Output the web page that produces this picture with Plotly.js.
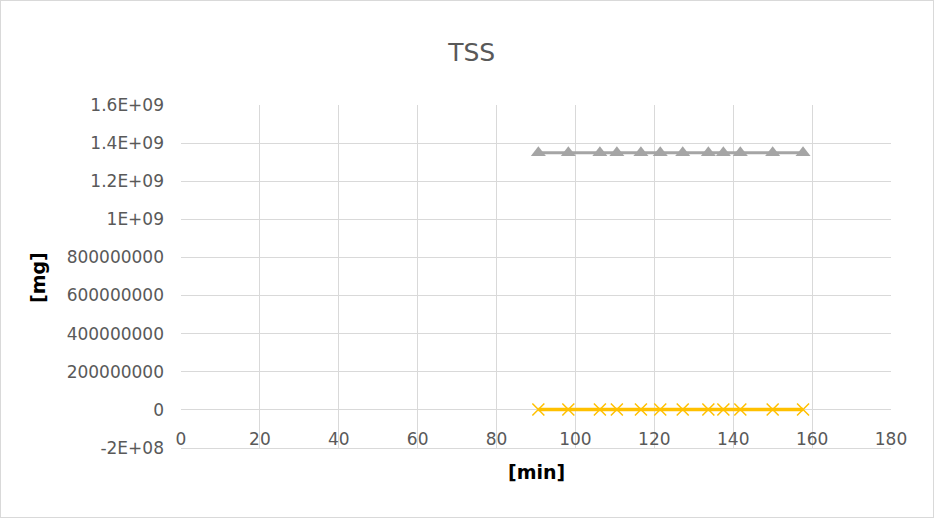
<!DOCTYPE html>
<html>
<head>
<meta charset="utf-8">
<script src="https://cdn.plot.ly/plotly-3.0.1.min.js"></script>
<style>
html,body{margin:0;padding:0;background:#fff;}
#chart{width:934px;height:518px;outline:1px solid #d9d9d9;outline-offset:-1px;}
</style>
</head>
<body>
<div id="chart"></div>
<script>
var timeMin = [90.6, 98.2, 106.2, 110.5, 116.6, 121.5, 127.2, 133.7, 137.5, 141.8, 150.0, 157.7];
var seriesGray = [1.35e9, 1.35e9, 1.35e9, 1.35e9, 1.35e9, 1.35e9, 1.35e9, 1.35e9, 1.35e9, 1.35e9, 1.35e9, 1.35e9];
var seriesYellow = [2e6, 2e6, 2e6, 2e6, 2e6, 2e6, 2e6, 2e6, 2e6, 2e6, 2e6, 2e6];
var yTickVals = [-2e8, 0, 2e8, 4e8, 6e8, 8e8, 1e9, 1.2e9, 1.4e9, 1.6e9];
var yTickText = ['-2E+08', '0', '200000000', '400000000', '600000000', '800000000', '1E+09', '1.2E+09', '1.4E+09', '1.6E+09'];
var xTickVals = [0, 20, 40, 60, 80, 100, 120, 140, 160, 180];

var traces = [
  {x: timeMin, y: seriesGray, mode: 'lines+markers', type: 'scatter',
   line: {color: '#a5a5a5', width: 3},
   marker: {symbol: 'triangle-up', size: 13, color: '#a5a5a5'}},
  {x: timeMin, y: seriesYellow, mode: 'lines+markers', type: 'scatter',
   line: {color: '#ffc000', width: 3.5},
   marker: {symbol: 'x-thin', size: 12, color: '#ffc000', line: {color: '#ffc000', width: 1.5}}}
];

var layout = {
  width: 934, height: 518,
  margin: {l: 181, r: 43, t: 105, b: 70},
  paper_bgcolor: 'rgba(0,0,0,0)', plot_bgcolor: '#fff',
  showlegend: false,
  font: {family: 'DejaVu Sans, sans-serif', color: '#595959'},
  title: {text: 'TSS', font: {size: 25, color: '#595959'}, x: 0.505, xref: 'container', y: 0.9, yref: 'container', yanchor: 'middle'},
  xaxis: {range: [0, 180], tickvals: xTickVals, ticktext: xTickVals.map(String),
          showgrid: true, gridcolor: '#d9d9d9', gridwidth: 1, zeroline: false,
          showline: true, linecolor: '#d9d9d9', ticks: '', ticklabelposition: 'inside',
          ticklabeloverflow: 'allow',
          tickfont: {size: 17, color: '#595959'}},
  yaxis: {range: [-2.002e8, 1.6e9], tickvals: yTickVals, ticktext: yTickText,
          showgrid: true, gridcolor: '#d9d9d9', gridwidth: 1, zeroline: false,
          showline: false, ticks: '', ticklen: 0, ticklabelstandoff: 16,
          tickfont: {size: 17, color: '#595959'}},
  annotations: [
    {text: '<b>[mg]</b>', xref: 'paper', yref: 'paper', x: -0.2014, y: 0.4956, textangle: -90,
     showarrow: false, font: {size: 19, color: '#000'}, xanchor: 'center', yanchor: 'middle'},
    {text: '<b>[min]</b>', xref: 'paper', yref: 'paper', x: 0.5, y: -0.07,
     showarrow: false, font: {size: 19, color: '#000'}, xanchor: 'center', yanchor: 'middle'}
  ]
};
Plotly.newPlot('chart', traces, layout, {staticPlot: true, displayModeBar: false});
</script>
</body>
</html>
